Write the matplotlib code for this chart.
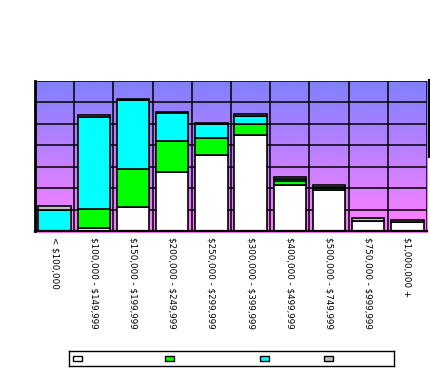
import numpy as np
import matplotlib
matplotlib.use("Agg")
import matplotlib.pyplot as plt
from matplotlib.patches import Rectangle
from matplotlib.lines import Line2D

plt.rcParams['text.parse_math'] = False

categories = ['< $100,000', '$100,000 - $149,999', '$150,000 - $199,999',
              '$200,000 - $249,999', '$250,000 - $299,999', '$300,000 - $399,999',
              '$400,000 - $499,999', '$500,000 - $749,999', '$750,000 - $999,999',
              '$1,000,000 +']
white = [0.00, 0.15, 1.12, 2.74, 3.55, 4.49, 2.13, 1.90, 0.48, 0.43]
green = [0.00, 0.86, 1.76, 1.45, 0.80, 0.50, 0.19, 0.10, 0.00, 0.00]
cyan = [0.98, 4.30, 3.22, 1.31, 0.64, 0.38, 0.09, 0.05, 0.00, 0.00]
gray = [0.17, 0.10, 0.05, 0.05, 0.03, 0.08, 0.10, 0.08, 0.11, 0.07]
series = [white, green, cyan, gray]
colors = ['#ffffff', '#00ff00', '#00ffff', '#c0c0c0']

W, H = 430, 368
fig = plt.figure(figsize=(W / 100, H / 100), dpi=100)
ax = fig.add_axes([35 / W, (H - 231) / H, 392 / W, 150 / H])

n = len(categories)
x = np.arange(n)
ax.set_xlim(-0.5, n - 0.5)
ax.set_ylim(0, 7)

# gradient wall
grad = np.linspace(0, 1, 256).reshape(-1, 1)
top = np.array([128, 128, 255]) / 255
bot = np.array([255, 128, 255]) / 255
img = top[None, None, :] * (1 - grad[:, :, None]) + bot[None, None, :] * grad[:, :, None]
ax.imshow(img, extent=(-0.5, n - 0.5, 0, 7), aspect='auto', zorder=0)

# gridlines
for yv in range(1, 8):
    ax.axhline(yv, color='black', lw=1.1, zorder=1)
for xv in np.arange(-0.5, n, 1.0):
    ax.axvline(xv, color='black', lw=1.1, zorder=1)

bottom = np.zeros(n)
for vals, c in zip(series, colors):
    ax.bar(x, vals, width=0.83, bottom=bottom, color=c, edgecolor='black',
           linewidth=1.2, zorder=2)
    bottom += np.array(vals)

for s in ['top', 'right']:
    ax.spines[s].set_visible(False)
ax.spines['left'].set_linewidth(2)
ax.spines['bottom'].set_linewidth(1.6)
ax.axhline(-0.06, color='#ff80ff', lw=1.5, clip_on=False, zorder=0)

ax.set_yticks([])
ax.set_xticks(x)
ax.set_xticklabels(categories, rotation=-90, fontsize=6.3, va='top', ha='center')
ax.tick_params(axis='x', length=0, pad=4)

# right-edge dark line (3D wall edge)
fig.add_artist(Line2D([428.5 / W, 428.5 / W], [(H - 80) / H, (H - 157) / H],
                      color='black', lw=1.5))

# legend box
lax = fig.add_axes([69 / W, (H - 366) / H, 325 / W, 15 / H])
lax.set_xlim(0, 325)
lax.set_ylim(0, 15)
lax.set_xticks([])
lax.set_yticks([])
for s in lax.spines.values():
    s.set_linewidth(1.0)
for xm, c in zip([3.5, 95.5, 190.5, 254.5], colors):
    lax.add_patch(Rectangle((xm, 5), 9, 5, facecolor=c, edgecolor='black', lw=1.0))

fig.savefig('out.png', dpi=100)
